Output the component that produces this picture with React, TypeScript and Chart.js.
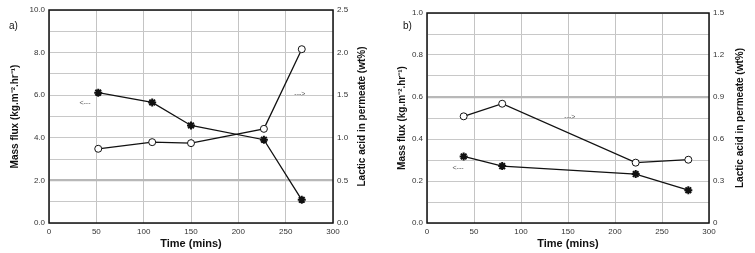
import React, { useEffect, useRef } from "react";
import { Chart, registerables } from "chart.js";

Chart.register(...registerables);

// Panel a)
const timeA = [52, 109, 150, 227, 267];
const fluxA = [6.12, 5.66, 4.58, 3.91, 1.09];
const lacticA = [0.871, 0.949, 0.9375, 1.105, 2.04];
// Panel b)
const timeB = [39, 80, 222, 278];
const fluxB = [0.317, 0.271, 0.233, 0.156];
const lacticB = [0.762, 0.852, 0.431, 0.452];

const xTickLabels = ["0", "50", "100", "150", "200", "250", "300"];
const leftTitle = "Mass flux (kg.m\u207B\u00B2.hr\u207B\u00B9)";
const rightTitle = "Lactic acid in permeate (wt%)";
const xTitle = "Time (mins)";

const annotationsA = [
  { text: "<---", x: 38, y: 5.63 },
  { text: "--->", x: 265, y: 6.05 },
];
const annotationsB = [
  { text: "--->", x: 152, y: 0.505 },
  { text: "<---", x: 33, y: 0.262 },
];

const FONT = "'Liberation Sans', Arial, sans-serif";

type PanelCfg = {
  label: string;
  labelX: number;
  labelY: number;
  times: number[];
  flux: number[];
  lactic: number[];
  leftMax: number;
  leftStep: number;
  leftLabelEvery: number;
  leftHeavy: number;
  leftFmt: (v: number) => string;
  rightMax: number;
  rightStep: number;
  rightLabelEvery: number;
  rightFmt: (v: number) => string;
  leftWidth: number;
  rightWidth: number;
  top: number;
  leftTitlePad: number;
  rightTitleX: number;
  notes: { text: string; x: number; y: number }[];
};

function makeChart(canvas: HTMLCanvasElement, c: PanelCfg) {
  const framePlugin = {
    id: "frame",
    afterDraw(chart: any) {
      const { ctx, chartArea: a, scales } = chart;
      ctx.save();
      ctx.strokeStyle = "#111";
      ctx.lineWidth = 1.5;
      ctx.strokeRect(a.left, a.top, a.right - a.left, a.bottom - a.top);
      // right title (reads bottom to top)
      ctx.fillStyle = "#111";
      ctx.font = `bold 10px ${FONT}`;
      ctx.textAlign = "center";
      ctx.textBaseline = "middle";
      ctx.translate(c.rightTitleX, (a.top + a.bottom) / 2);
      ctx.rotate(-Math.PI / 2);
      ctx.fillText(rightTitle, 0, 0);
      ctx.restore();
      ctx.save();
      ctx.fillStyle = "#111";
      ctx.font = `10px ${FONT}`;
      ctx.textAlign = "left";
      ctx.textBaseline = "middle";
      ctx.fillText(c.label, c.labelX, c.labelY);
      ctx.font = `7px ${FONT}`;
      ctx.fillStyle = "#555";
      ctx.textAlign = "center";
      for (const n of c.notes) {
        ctx.fillText(n.text, scales.x.getPixelForValue(n.x), scales.y.getPixelForValue(n.y));
      }
      ctx.restore();
    },
  };

  return new Chart(canvas, {
    type: "line",
    data: {
      datasets: [
        {
          data: c.times.map((t, i) => ({ x: t, y: c.flux[i] })),
          yAxisID: "y",
          borderColor: "#111",
          borderWidth: 1.3,
          pointStyle: "star",
          pointRadius: 4,
          pointBorderWidth: 2,
          pointBorderColor: "#111",
          pointBackgroundColor: "#111",
          tension: 0,
        },
        {
          data: c.times.map((t, i) => ({ x: t, y: c.lactic[i] })),
          yAxisID: "y2",
          borderColor: "#111",
          borderWidth: 1.3,
          pointStyle: "circle",
          pointRadius: 3.5,
          pointBorderWidth: 1,
          pointBorderColor: "#111",
          pointBackgroundColor: "#fff",
          tension: 0,
        },
      ],
    },
    options: {
      animation: false,
      responsive: false,
      layout: { padding: { top: c.top, left: 0, right: 0, bottom: 0 } },
      plugins: { legend: { display: false }, tooltip: { enabled: false } },
      scales: {
        x: {
          type: "linear",
          min: 0,
          max: 300,
          afterBuildTicks: (s: any) => {
            s.ticks = xTickLabels.map((v) => ({ value: Number(v) }));
          },
          afterFit: (s: any) => {
            s.height = 30;
          },
          grid: { color: "#c4c4c4", lineWidth: 1, drawTicks: false },
          border: { display: false },
          ticks: {
            padding: 4,
            color: "#333",
            font: { family: FONT, size: 8 },
            maxRotation: 0,
            callback: (v: any) => String(v),
          },
          title: {
            display: true,
            text: xTitle,
            color: "#111",
            font: { family: FONT, size: 11, weight: "bold" },
            padding: { top: 0, bottom: 2 },
          },
        },
        y: {
          type: "linear",
          position: "left",
          min: 0,
          max: c.leftMax,
          afterBuildTicks: (s: any) => {
            const n = Math.round(c.leftMax / c.leftStep);
            s.ticks = Array.from({ length: n + 1 }, (_, i) => ({ value: i * c.leftStep }));
          },
          afterFit: (s: any) => {
            s.width = c.leftWidth;
          },
          grid: {
            drawTicks: false,
            color: (ctx: any) =>
              ctx.index === c.leftHeavy ? "#b8b8b8" : "#c8c8c8",
            lineWidth: (ctx: any) => (ctx.index === c.leftHeavy ? 2.2 : 1),
          },
          border: { display: false },
          ticks: {
            padding: 4,
            color: "#333",
            font: { family: FONT, size: 8 },
            callback: (v: any, i: number) =>
              i % c.leftLabelEvery === 0 ? c.leftFmt(Number(v)) : "",
          },
          title: {
            display: true,
            text: leftTitle,
            color: "#111",
            font: { family: FONT, size: 10, weight: "bold" },
            padding: { top: c.leftTitlePad, bottom: 0 },
          },
        },
        y2: {
          type: "linear",
          position: "right",
          min: 0,
          max: c.rightMax,
          afterBuildTicks: (s: any) => {
            const n = Math.round(c.rightMax / c.rightStep);
            s.ticks = Array.from({ length: n + 1 }, (_, i) => ({ value: i * c.rightStep }));
          },
          afterFit: (s: any) => {
            s.width = c.rightWidth;
          },
          grid: { display: false, drawTicks: false },
          border: { display: false },
          ticks: {
            padding: 4,
            color: "#333",
            font: { family: FONT, size: 8 },
            callback: (v: any, i: number) =>
              i % c.rightLabelEvery === 0 ? c.rightFmt(Number(v)) : "",
          },
        },
      },
    },
    plugins: [framePlugin],
  } as any);
}

const cfgA: PanelCfg = {
  label: "a)",
  labelX: 9,
  labelY: 26,
  times: timeA,
  flux: fluxA,
  lactic: lacticA,
  leftMax: 10,
  leftStep: 1,
  leftLabelEvery: 2,
  leftHeavy: 2,
  leftFmt: (v) => v.toFixed(1),
  rightMax: 2.5,
  rightStep: 0.25,
  rightLabelEvery: 2,
  rightFmt: (v) => v.toFixed(1),
  leftWidth: 49,
  rightWidth: 42,
  top: 10,
  leftTitlePad: 9,
  rightTitleX: 362,
  notes: annotationsA,
};

const cfgB: PanelCfg = {
  label: "b)",
  labelX: 28,
  labelY: 26,
  times: timeB,
  flux: fluxB,
  lactic: lacticB,
  leftMax: 1,
  leftStep: 0.1,
  leftLabelEvery: 2,
  leftHeavy: 6,
  leftFmt: (v) => v.toFixed(1),
  rightMax: 1.5,
  rightStep: 0.15,
  rightLabelEvery: 2,
  rightFmt: (v) => (v === 0 ? "0" : v.toFixed(1)),
  leftWidth: 52,
  rightWidth: 46,
  top: 13,
  leftTitlePad: 21,
  rightTitleX: 365,
  notes: annotationsB,
};

export default function App() {
  const refA = useRef<HTMLCanvasElement>(null);
  const refB = useRef<HTMLCanvasElement>(null);
  useEffect(() => {
    const a = makeChart(refA.current!, cfgA);
    const b = makeChart(refB.current!, cfgB);
    return () => {
      a.destroy();
      b.destroy();
    };
  }, []);
  return (
    <div
      style={{
        position: "fixed",
        left: 0,
        top: 0,
        width: 755,
        height: 253,
        background: "#fff",
      }}
    >
      <canvas
        ref={refA}
        width={375}
        height={253}
        style={{ position: "absolute", left: 0, top: 0, width: 375, height: 253 }}
      />
      <canvas
        ref={refB}
        width={380}
        height={253}
        style={{ position: "absolute", left: 375, top: 0, width: 380, height: 253 }}
      />
    </div>
  );
}
